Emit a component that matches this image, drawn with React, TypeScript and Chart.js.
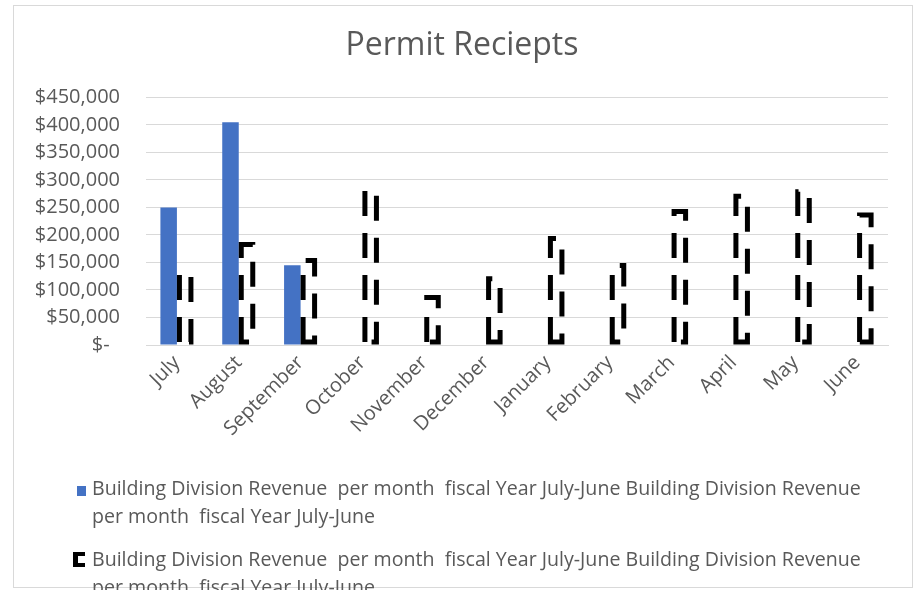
import React, { useEffect, useRef } from "react";
import { Chart, registerables } from "chart.js";

Chart.register(...registerables);

const categories = ["July", "August", "September", "October", "November", "December", "January", "February", "March", "April", "May", "June"];
const revenueA = [250000, 405000, 145000, null, null, null, null, null, null, null, null, null];
const revenueB = [135000, 187000, 158000, 285000, 91000, 125000, 198000, 149000, 247000, 275000, 283000, 241000];
const yTicks = [0, 50000, 100000, 150000, 200000, 250000, 300000, 350000, 400000, 450000];
const titleText = "Permit Reciepts";
const seriesName = "Building Division Revenue  per month  fiscal Year July-June Building Division Revenue";
const seriesNameTail = "per month  fiscal Year July-June";

const FONT = "'Open Sans', 'DejaVu Sans', sans-serif";
const GRAY = "#595959";

const dashedBars = {
  id: "dashedBars",
  afterDatasetsDraw(chart: any) {
    const meta = chart.getDatasetMeta(1);
    const ctx = chart.ctx;
    const lw = 5;
    ctx.save();
    ctx.strokeStyle = "#000000";
    ctx.lineWidth = lw;
    ctx.lineCap = "butt";
    ctx.setLineDash([25, 17]);
    meta.data.forEach((el: any) => {
      const p = el.getProps(["x", "y", "base", "width"], true);
      const left = p.x - p.width / 2 + lw / 2;
      const right = p.x + p.width / 2 - lw / 2;
      const top = p.y + lw / 2;
      const bottom = p.base - lw / 2;
      ctx.beginPath();
      ctx.moveTo(left, bottom);
      ctx.lineTo(left, top);
      ctx.lineTo(right, top);
      ctx.lineTo(right, bottom);
      ctx.closePath();
      ctx.stroke();
    });
    ctx.restore();
  },
};

export default function App() {
  const ref = useRef<HTMLCanvasElement | null>(null);

  useEffect(() => {
    if (!ref.current) return;
    const chart = new Chart(ref.current, {
      type: "bar",
      data: {
        labels: categories,
        datasets: [
          {
            label: seriesName,
            data: revenueA,
            backgroundColor: "#4472C4",
            borderWidth: 0,
            categoryPercentage: 0.534,
            barPercentage: 1,
          },
          {
            label: seriesName,
            data: revenueB,
            backgroundColor: "rgba(0,0,0,0)",
            borderWidth: 0,
            categoryPercentage: 0.534,
            barPercentage: 1,
          },
        ],
      },
      options: {
        animation: false,
        responsive: false,
        maintainAspectRatio: false,
        layout: { padding: { left: 36, right: 27, top: 0, bottom: 145 } },
        plugins: {
          legend: { display: false },
          tooltip: { enabled: false },
          title: {
            display: true,
            text: titleText,
            color: GRAY,
            font: { family: FONT, size: 32, weight: "normal" },
            padding: { top: 27, bottom: 32 },
          },
        },
        scales: {
          x: {
            grid: { display: false, drawTicks: false },
            border: { display: true, color: "#d9d9d9" },
            ticks: {
              color: GRAY,
              font: { family: FONT, size: 20 },
              minRotation: 45,
              maxRotation: 45,
              padding: 6,
              autoSkip: false,
            },
            afterFit: (scale: any) => {
              scale.height = 100;
            },
          },
          y: {
            min: 0,
            max: 450000,
            grid: { color: "#d9d9d9", drawTicks: false },
            border: { display: false },
            afterBuildTicks: (scale: any) => {
              scale.ticks = yTicks.map((v) => ({ value: v }));
            },
            ticks: {
              color: GRAY,
              font: { family: FONT, size: 20 },
              padding: 26,
              callback: (v: any) => (Number(v) === 0 ? "$-  " : "$" + Number(v).toLocaleString("en-US")),
            },
            afterFit: (scale: any) => {
              scale.width = 110;
            },
          },
        },
      },
      plugins: [dashedBars],
    });
    return () => chart.destroy();
  }, []);

  const textStyle: React.CSSProperties = {
    position: "absolute",
    left: 92,
    whiteSpace: "pre",
    fontFamily: FONT,
    fontSize: 19.6,
    lineHeight: "28px",
    color: GRAY,
  };

  return (
    <div style={{ position: "fixed", left: 0, top: 0, width: 915, height: 590, background: "#fff", overflow: "hidden" }}>
      <canvas ref={ref} width={915} height={590} style={{ position: "absolute", left: 0, top: 0, width: 915, height: 590 }} />
      <div style={{ position: "absolute", left: 13, top: 5, width: 898, height: 581, border: "1px solid #d9d9d9", pointerEvents: "none" }} />
      <div style={{ position: "absolute", left: 77, top: 486, width: 9, height: 10, background: "#4472C4" }} />
      <div style={{ ...textStyle, top: 474 }}>{seriesName + "\n" + seriesNameTail}</div>
      <div style={{ position: "absolute", left: 73, top: 552, width: 7, height: 7, borderLeft: "5px solid #000", borderTop: "4px solid #000", borderBottom: "4px solid #000" }} />
      <div style={{ ...textStyle, top: 545 }}>{seriesName + "\n" + seriesNameTail}</div>
    </div>
  );
}
